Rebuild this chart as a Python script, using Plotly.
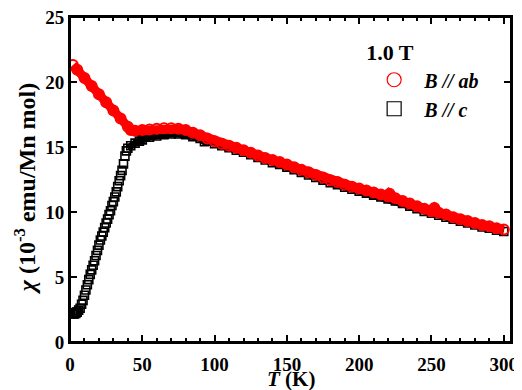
import plotly.graph_objects as go
import numpy as np

# B // ab data
T_ab = [2, 5, 10, 15, 20, 25, 30, 35, 40, 42, 45, 50, 55, 60, 65, 70, 75, 80, 85, 90, 95,
        100, 105, 110, 115, 120, 125, 130, 135, 140, 145, 150, 155, 160, 165, 170, 175,
        180, 185, 190, 195, 200, 205, 210, 215, 220, 221, 225, 230, 235, 240, 245, 250, 252,
        255, 260, 265, 270, 275, 280, 285, 290, 295, 300]
chi_ab = [21.3, 20.95, 20.3, 19.7, 19.05, 18.45, 17.8, 17.2, 16.55, 16.3, 16.25, 16.3, 16.35,
          16.4, 16.45, 16.45, 16.4, 16.3, 16.1, 15.9, 15.65, 15.45, 15.25, 15.1, 14.95, 14.75,
          14.55, 14.35, 14.15, 14.0, 13.85, 13.65, 13.45, 13.25, 13.05, 12.85, 12.65, 12.45,
          12.3, 12.1, 11.95, 11.8, 11.65, 11.5, 11.35, 11.2, 11.4, 11.05, 10.85, 10.65, 10.45,
          10.25, 10.05, 10.3, 9.95, 9.8, 9.6, 9.45, 9.3, 9.15, 9.0, 8.9, 8.75, 8.65]

# B // c data
T_c = [2, 2.5, 3, 3.5, 4, 4.5, 5, 6, 7, 8, 9, 10, 11, 12, 13, 14, 15, 16, 17, 18, 19, 20,
       21, 22, 23, 24, 25, 26, 27, 28, 29, 30, 31, 32, 33, 34, 35, 36, 37, 38, 39, 40, 42,
       45, 48, 50, 55, 60, 65, 70, 75, 80, 85, 90, 93, 95, 100, 105, 110, 115, 120, 125,
       130, 135, 140, 145, 150, 155, 160, 165, 170, 175, 180, 185, 190, 195, 200, 205, 210,
       215, 220, 225, 230, 235, 240, 245, 250, 255, 260, 265, 270, 275, 280, 285, 290, 295, 300]
chi_c = [2.15, 2.2, 2.15, 2.25, 2.2, 2.3, 2.3, 2.45, 2.6, 2.9, 3.2, 3.6, 4.0, 4.4, 4.8, 5.2,
         5.55, 5.9, 6.25, 6.65, 7.05, 7.45, 7.85, 8.15, 8.45, 8.8, 9.15, 9.45, 9.8, 10.1,
         10.5, 10.8, 11.15, 11.55, 11.95, 12.4, 12.8, 13.2, 13.7, 14.3, 14.7, 14.9, 15.1,
         15.3, 15.45, 15.55, 15.75, 15.85, 15.95, 16.0, 16.0, 15.95, 15.8, 15.65, 15.4,
         15.45, 15.25, 15.1, 14.95, 14.75, 14.6, 14.4, 14.2, 14.0, 13.8, 13.65, 13.45, 13.25,
         13.05, 12.85, 12.65, 12.45, 12.25, 12.1, 11.9, 11.75, 11.6, 11.45, 11.3, 11.15,
         11.0, 10.85, 10.65, 10.45, 10.25, 10.05, 9.9, 9.75, 9.6, 9.45, 9.3, 9.15, 9.0,
         8.85, 8.75, 8.6, 8.5]

x_ticks = [0, 50, 100, 150, 200, 250, 300]
y_ticks = [0, 5, 10, 15, 20, 25]
x_range = [0, 305]
y_range = [0, 25]

FONT = "Liberation Serif"
RED = "#ff0000"

Tc = np.array(T_c)
cc = np.array(chi_c)
mask = Tc >= 40

fig = go.Figure()
fig.add_trace(go.Scatter(x=Tc[mask], y=cc[mask], mode="lines",
                         line=dict(color="black", width=7), showlegend=False, hoverinfo="skip"))
fig.add_trace(go.Scatter(x=T_c, y=chi_c, mode="markers",
                         marker=dict(symbol="square-open", size=8, color="black",
                                     line=dict(width=1.6, color="black")),
                         showlegend=False))
fig.add_trace(go.Scatter(x=T_ab, y=chi_ab, mode="lines",
                         line=dict(color=RED, width=9), showlegend=False, hoverinfo="skip"))
fig.add_trace(go.Scatter(x=T_ab, y=chi_ab, mode="markers",
                         marker=dict(symbol="circle-open", size=10, color=RED,
                                     line=dict(width=2, color=RED)),
                         showlegend=False))
fig.add_trace(go.Scatter(x=[None], y=[None], mode="markers", name="<i>B // ab</i>",
                         marker=dict(symbol="circle-open", size=14, color=RED,
                                     line=dict(width=1.2, color=RED))))
fig.add_trace(go.Scatter(x=[None], y=[None], mode="markers", name="<i>B // c</i>",
                         marker=dict(symbol="square-open", size=14, color="black",
                                     line=dict(width=1.2, color="black"))))

axis_common = dict(showgrid=False, zeroline=False, showline=True, linecolor="black",
                   linewidth=2, mirror="allticks", ticks="inside", tickcolor="black",
                   tickwidth=1.5, ticklen=7, automargin=False, ticklabeloverflow="allow",
                   tickfont=dict(family=FONT, size=19, color="black", weight="bold"))
x_minor = dict(ticks="inside", ticklen=4, tickwidth=1.5, tickcolor="black", dtick=10)

# plot frame
shapes = [dict(type="rect", xref="paper", yref="paper", x0=0, y0=0, x1=1, y1=1,
               line=dict(color="black", width=2), layer="above")]

fig.update_layout(
    width=514, height=382,
    margin=dict(l=62, r=11, t=9, b=48, autoexpand=False),
    paper_bgcolor="white", plot_bgcolor="white",
    xaxis=dict(range=x_range, tickvals=x_ticks, ticktext=[str(v) for v in x_ticks],
               minor=x_minor, ticklabelstandoff=4, **axis_common),
    yaxis=dict(range=y_range, tickvals=y_ticks, ticktext=[str(v) for v in y_ticks],
               **axis_common),
    shapes=shapes,
    legend=dict(x=0.667, y=0.955, xanchor="left", yanchor="top", bgcolor="rgba(0,0,0,0)",
                title=dict(text="1.0 T", font=dict(family=FONT, size=22, color="black", weight="bold")),
                font=dict(family=FONT, size=20, color="black", weight="bold"),
                tracegroupgap=0, itemsizing="trace", itemwidth=50),
    showlegend=True,
    annotations=[
        dict(text="<i>T</i> (K)", xref="paper", yref="paper", x=0.5, y=0, yshift=-37,
             xanchor="center", yanchor="middle", showarrow=False,
             font=dict(family=FONT, size=21, color="black", weight="bold")),
        dict(text="<i>χ</i> (10<sup>-3</sup> emu/Mn mol)", xref="paper", yref="paper",
             x=0, xshift=-45, y=0.47, textangle=-90, xanchor="center", yanchor="middle",
             showarrow=False, font=dict(family=FONT, size=24, color="black", weight="bold")),
    ],
)

fig.write_html("out.html")
